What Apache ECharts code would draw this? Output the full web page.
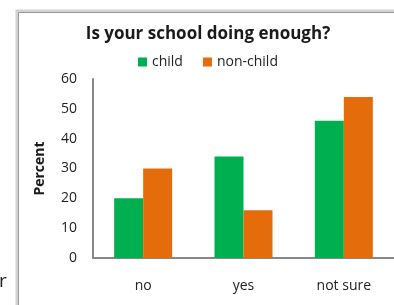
<!DOCTYPE html>
<html>
<head>
<meta charset="utf-8">
<script src="https://cdn.jsdelivr.net/npm/echarts@6/dist/echarts.min.js"></script>
<style>
  html, body { margin: 0; padding: 0; background: #fff; }
  #chart { width: 394px; height: 305px; }
</style>
</head>
<body>
<div id="chart"></div>
<script>
const categories = ["no", "yes", "not sure"];
const childValues = [20, 34, 46];
const nonChildValues = [30, 16, 54];
const yTicks = { min: 0, max: 60, interval: 10 };

const chart = echarts.init(document.getElementById("chart"));
const font = "Open Sans, Noto Sans, sans-serif";

chart.setOption({
  backgroundColor: "#fff",
  animation: false,
  title: {
    text: "Is your school doing enough?",
    left: 203,
    textAlign: "center",
    top: 21,
    textStyle: { fontFamily: font, fontSize: 17, fontWeight: "bold", color: "#1a1a1a" }
  },
  legend: {
    top: 50,
    left: 133,
    itemWidth: 9,
    itemHeight: 9,
    itemGap: 20,
    icon: "rect",
    textStyle: { fontFamily: font, fontSize: 14, color: "#222" },
    data: ["child", "non-child"]
  },
  grid: { left: 93, right: -3, top: 79, bottom: 47 },
  xAxis: {
    type: "category",
    data: categories,
    axisLine: { lineStyle: { color: "#888", width: 2 } },
    axisTick: { show: false },
    axisLabel: { fontFamily: font, fontSize: 14, color: "#222", margin: 21 }
  },
  yAxis: {
    type: "value",
    min: yTicks.min,
    max: yTicks.max,
    interval: yTicks.interval,
    name: "Percent",
    nameLocation: "middle",
    nameGap: 46,
    nameTextStyle: { fontFamily: font, fontSize: 14, fontWeight: "bold", color: "#1a1a1a" },
    axisLine: { show: true, lineStyle: { color: "#888", width: 2 } },
    axisTick: { show: false },
    splitLine: { show: false },
    axisLabel: { fontFamily: font, fontSize: 14, color: "#222", margin: 16 }
  },
  series: [
    {
      name: "child",
      type: "bar",
      data: childValues,
      barWidth: 29,
      barGap: "0%",
      itemStyle: { color: "#00B050" }
    },
    {
      name: "non-child",
      type: "bar",
      data: nonChildValues,
      barWidth: 29,
      itemStyle: { color: "#E46C0A" }
    }
  ],
  graphic: [
    {
      type: "polyline",
      shape: { points: [[17, 305], [17, 11], [394, 11]] },
      style: { stroke: "#d2d2d2", lineWidth: 3, fill: null }
    },
    {
      type: "polyline",
      shape: { points: [[18.5, 305], [18.5, 12.5], [394, 12.5]] },
      style: { stroke: "#9a9a9a", lineWidth: 1, fill: null }
    },
    {
      type: "text",
      left: -1,
      top: 272,
      style: { text: "r", fontFamily: font, fontSize: 19, fill: "#222" }
    }
  ]
});
</script>
</body>
</html>
